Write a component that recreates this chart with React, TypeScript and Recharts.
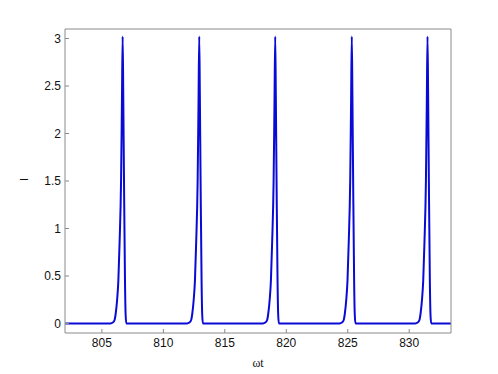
import React from 'react';
import { LineChart, Line, XAxis, YAxis } from 'recharts';

const omegaT: number[] = [
  802.0,
  805.69, 805.89, 806.04, 806.12, 806.24, 806.34, 806.44, 806.56, 806.63, 806.69, 806.74, 806.8, 806.88, 806.93, 806.99,
  811.92, 812.12, 812.27, 812.35, 812.47, 812.57, 812.67, 812.79, 812.86, 812.92, 812.97, 813.03, 813.11, 813.16, 813.22,
  818.1, 818.3, 818.45, 818.53, 818.65, 818.75, 818.85, 818.97, 819.04, 819.1, 819.15, 819.21, 819.29, 819.34, 819.4,
  824.33, 824.53, 824.68, 824.76, 824.88, 824.98, 825.08, 825.2, 825.27, 825.33, 825.38, 825.44, 825.52, 825.57, 825.63,
  830.49, 830.69, 830.84, 830.92, 831.04, 831.14, 831.24, 831.36, 831.43, 831.49, 831.54, 831.6, 831.68, 831.73, 831.79,
  833.4,
];

const intensity: number[] = [
  0,
  0, 0.01, 0.04, 0.1, 0.25, 0.45, 0.85, 1.5, 2.3, 3.02, 2.4, 1.5, 0.45, 0.1, 0,
  0, 0.01, 0.04, 0.1, 0.25, 0.45, 0.85, 1.5, 2.3, 3.02, 2.4, 1.5, 0.45, 0.1, 0,
  0, 0.01, 0.04, 0.1, 0.25, 0.45, 0.85, 1.5, 2.3, 3.02, 2.4, 1.5, 0.45, 0.1, 0,
  0, 0.01, 0.04, 0.1, 0.25, 0.45, 0.85, 1.5, 2.3, 3.02, 2.4, 1.5, 0.45, 0.1, 0,
  0, 0.01, 0.04, 0.1, 0.25, 0.45, 0.85, 1.5, 2.3, 3.02, 2.4, 1.5, 0.45, 0.1, 0,
  0,
];

const xTicks: number[] = [805, 810, 815, 820, 825, 830];
const yTicks: number[] = [0, 0.5, 1, 1.5, 2, 2.5, 3];
const xDomain: [number, number] = [802, 833.4];
const yDomain: [number, number] = [-0.1, 3.1];

const data = omegaT.map((x, i) => ({ x, y: intensity[i] }));

const axisColor = '#8a8a8a';
const tickFont = { fontFamily: 'Liberation Sans, Arial, sans-serif', fontSize: 12, fill: '#111' };

export default function App() {
  return (
    <div style={{ width: 482, height: 366, background: '#fff' }}>
      <LineChart width={482} height={366} data={data} margin={{ top: 20, right: 38, bottom: 0, left: 0 }}>
        <XAxis
          xAxisId="b"
          dataKey="x"
          type="number"
          domain={xDomain}
          allowDataOverflow
          ticks={xTicks}
          height={41}
          tickSize={-4}
          tickMargin={9.5}
          stroke={axisColor}
          tick={tickFont}
          label={{ value: 'ωt', position: 'insideBottom', offset: 7, style: { fontFamily: 'Liberation Serif, Times New Roman, serif', fontSize: 12, fill: '#111' } }}
        />
        <XAxis
          xAxisId="t"
          dataKey="x"
          type="number"
          orientation="top"
          domain={xDomain}
          allowDataOverflow
          ticks={xTicks}
          height={1}
          tickSize={-4}
          stroke={axisColor}
          tick={false}
        />
        <YAxis
          yAxisId="l"
          type="number"
          domain={yDomain}
          allowDataOverflow
          ticks={yTicks}
          width={57}
          tickSize={-4}
          tickMargin={8}
          stroke={axisColor}
          tick={tickFont}
          label={{ value: 'I', angle: -90, position: 'insideLeft', offset: 16, style: { fontFamily: 'Liberation Sans, Arial, sans-serif', fontSize: 11, fill: '#111' } }}
        />
        <YAxis
          yAxisId="r"
          type="number"
          orientation="right"
          domain={yDomain}
          allowDataOverflow
          ticks={yTicks}
          width={1}
          tickSize={-4}
          stroke={axisColor}
          tick={false}
        />
        <Line
          xAxisId="b"
          yAxisId="l"
          dataKey="y"
          type="monotone"
          stroke="#0a0ad6"
          strokeWidth={2}
          dot={false}
          isAnimationActive={false}
        />
      </LineChart>
    </div>
  );
}
